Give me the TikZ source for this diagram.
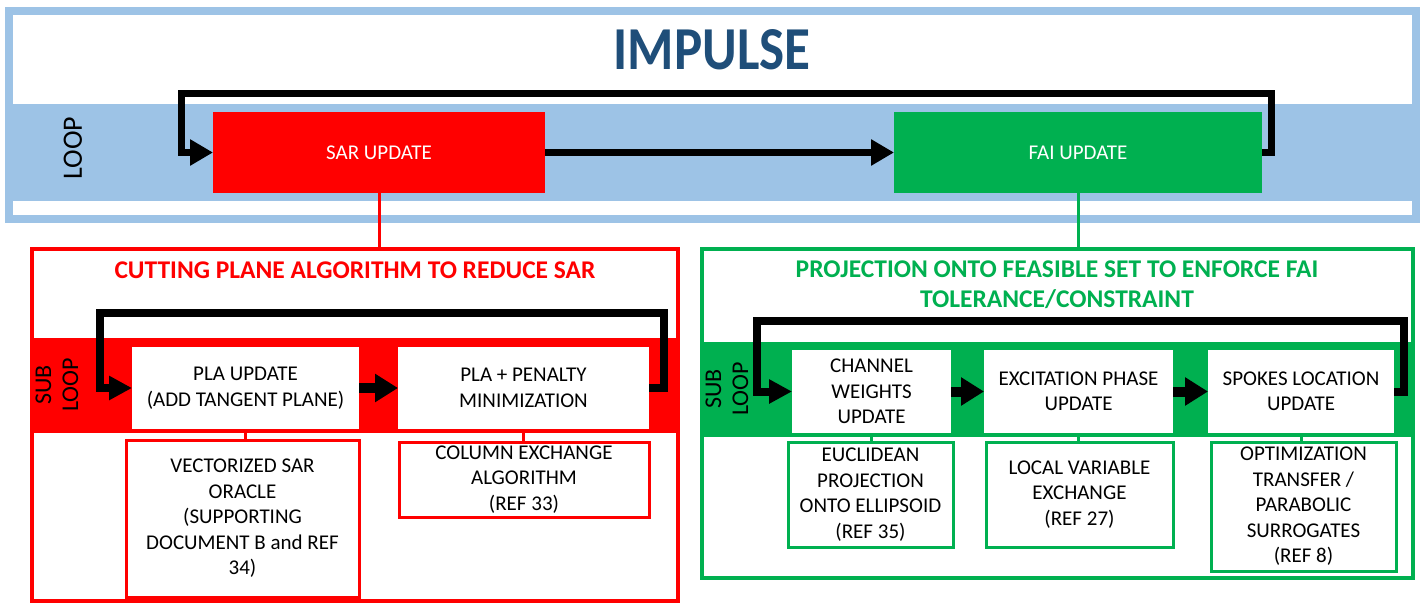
\documentclass[tikz,border=0pt]{standalone}
\usepackage{fontspec}
\setmainfont{Carlito}
\newfontfamily\impfont[FakeStretch=0.87]{Carlito}
\usetikzlibrary{arrows.meta}
\definecolor{lblue}{HTML}{9DC3E6}
\definecolor{pred}{HTML}{FF0000}
\definecolor{pgreen}{HTML}{00B050}
\definecolor{tblue}{HTML}{1F4E79}
\begin{document}
\begin{tikzpicture}[x=1pt,y=-1pt,
  box/.style={inner sep=0pt, outer sep=0pt, align=center, anchor=north west,
    font=\fontsize{21}{25.5}\selectfont},
  ubox/.style={box, fill=white},
  rbox/.style={box, fill=white, draw=pred, line width=3pt},
  gbox/.style={box, fill=white, draw=pgreen, line width=3pt},
  ttl/.style={align=center, inner sep=0pt, font=\bfseries\fontsize{25.5}{30}\selectfont},
  sidelabel/.style={rotate=90, align=center, inner sep=0pt, font=\fontsize{24}{27}\selectfont},
  bigarrow/.style={line width=7pt, line join=miter, -{Triangle[length=23pt,width=25pt]}},
  subloop/.style={line width=8pt, line join=miter, -{Triangle[length=23pt,width=23pt]}},
  smallarrow/.style={line width=10pt, -{Triangle[length=23pt,width=27pt]}},
  rlink/.style={pred, line width=3pt},
  glink/.style={pgreen, line width=3pt}]
\useasboundingbox (0,0) rectangle (1424,605);
% top frame
\fill[lblue] (5,7) rectangle (1420,223);
\fill[white] (13,15) rectangle (1412,215);
\fill[lblue] (13,104) rectangle (1412,201);
\node[font=\impfont\bfseries\fontsize{61}{66}\selectfont, text=tblue, inner sep=0pt] (title) at (712,50) {IMPULSE};
\node[rotate=90, inner sep=0pt, font=\fontsize{28}{32}\selectfont] (loop) at (73,148) {LOOP};
\node[box, fill=pred, text=white, minimum width=332pt, minimum height=81pt] (sar) at (213,112) {SAR UPDATE};
\node[box, fill=pgreen, text=white, minimum width=368pt, minimum height=81pt] (fai) at (894,112) {FAI UPDATE};
\coordinate (ml) at (181,93);
\coordinate (mr) at (1271,93);
\draw[bigarrow] (sar.east) -- (fai.west);
\draw[bigarrow] (fai.east) -| (mr) -- (ml) |- (sar.west);

% red panel
\node[box, fill=white, minimum width=646pt, minimum height=352pt] (rpanel) at (32,249) {};
\fill[pred] (32,338) rectangle (678,433);
\draw[pred, line width=4pt] (rpanel.north west) rectangle (rpanel.south east);
\draw[rlink] (sar.south) -- (sar.south |- rpanel.north);
\node[ttl, text=pred] (rtitle) at (355,270) {CUTTING PLANE ALGORITHM TO REDUCE SAR};
\node[sidelabel] (rsub) at (57,385) {SUB\\LOOP};
\node[ubox, minimum width=227pt, minimum height=82pt] (pla) at (132,347) {PLA UPDATE\\(ADD TANGENT PLANE)};
\node[ubox, minimum width=251pt, minimum height=82pt] (plap) at (398,347) {PLA + PENALTY\\MINIMIZATION};
\coordinate (rl) at (100,313);
\coordinate (rr) at (664,313);
\draw[smallarrow] (pla.east) -- (plap.west);
\draw[subloop] (plap.east) -| (rr) -- (rl) |- (pla.west);
\node[rbox, minimum width=233pt, minimum height=157pt] (vec) at (126,440) {VECTORIZED SAR\\ORACLE\\(SUPPORTING\\DOCUMENT B and REF\\34)};
\node[rbox, minimum width=250pt, minimum height=75pt] (col) at (399,442) {COLUMN EXCHANGE\\ALGORITHM\\(REF 33)};
\draw[rlink] (pla.south) -- (pla.south |- vec.north);
\draw[rlink] (plap.south) -- (plap.south |- col.north);

% green panel
\node[box, fill=white, minimum width=711pt, minimum height=329pt] (gpanel) at (702,249) {};
\fill[pgreen] (702,342) rectangle (1413,437);
\draw[pgreen, line width=4pt] (gpanel.north west) rectangle (gpanel.south east);
\draw[glink] (fai.south) -- (fai.south |- gpanel.north);
\node[ttl, text=pgreen] (gtitle) at (1057,285) {PROJECTION ONTO FEASIBLE SET TO ENFORCE FAI\\TOLERANCE/CONSTRAINT};
\node[sidelabel] (gsub) at (727,389) {SUB\\LOOP};
\node[ubox, minimum width=159pt, minimum height=83pt] (ch) at (792,350) {CHANNEL\\WEIGHTS\\UPDATE};
\node[ubox, minimum width=189pt, minimum height=83pt] (ex) at (984,350) {EXCITATION PHASE\\UPDATE};
\node[ubox, minimum width=186pt, minimum height=83pt] (sp) at (1208,350) {SPOKES LOCATION\\UPDATE};
\coordinate (gl) at (757,321);
\coordinate (gr) at (1404,321);
\draw[smallarrow] (ch.east) -- (ex.west);
\draw[smallarrow] (ex.east) -- (sp.west);
\draw[subloop] (sp.east) -| (gr) -- (gl) |- (ch.west);
\node[gbox, minimum width=165pt, minimum height=105pt] (eu) at (788,442) {EUCLIDEAN\\PROJECTION\\ONTO ELLIPSOID\\(REF 35)};
\node[gbox, minimum width=187pt, minimum height=105pt] (lv) at (986,442) {LOCAL VARIABLE\\EXCHANGE\\(REF 27)};
\node[gbox, minimum width=185pt, minimum height=129pt] (ot) at (1211,442) {OPTIMIZATION\\TRANSFER /\\PARABOLIC\\SURROGATES\\(REF 8)};
\draw[glink] (ch.south) -- (ch.south |- eu.north);
\draw[glink] (ex.south) -- (ex.south |- lv.north);
\draw[glink] (sp.south) -- (sp.south |- ot.north);
\end{tikzpicture}
\end{document}
